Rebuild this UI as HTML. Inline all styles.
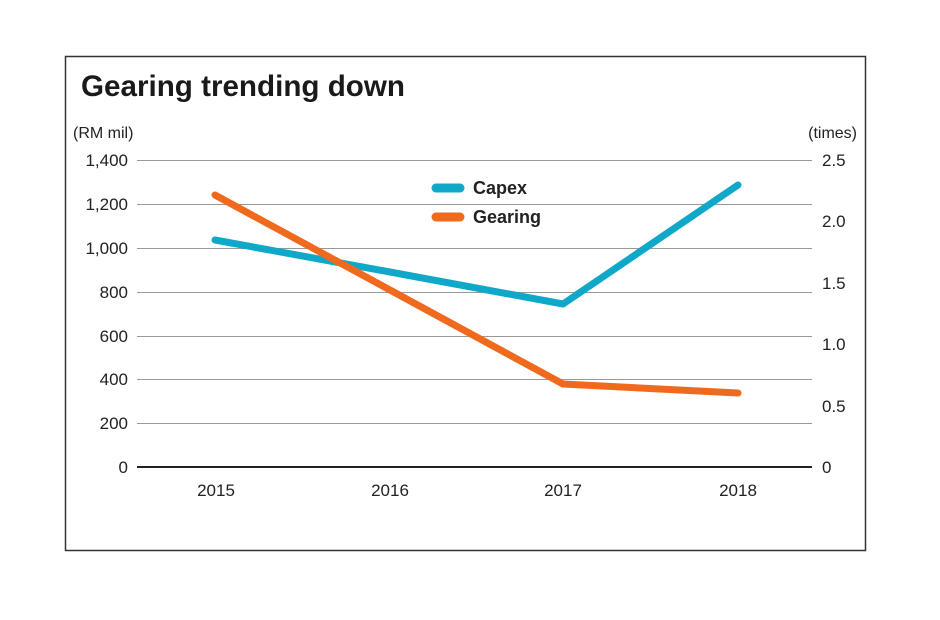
<!DOCTYPE html>
<html><head><meta charset="utf-8"><style>
html,body{margin:0;padding:0;background:#fff;}
</style></head><body>
<svg width="940" height="615" xmlns="http://www.w3.org/2000/svg" font-family="Liberation Sans, sans-serif">
<rect x="0" y="0" width="940" height="615" fill="#fff"/>
<rect x="65.5" y="56.5" width="800" height="494" fill="none" stroke="#333" stroke-width="1.5"/>
<text x="81" y="96" font-size="30" font-weight="bold" fill="#1a1a1a" textLength="324" lengthAdjust="spacingAndGlyphs">Gearing trending down</text>
<text x="73" y="138" font-size="16" fill="#222">(RM mil)</text>
<text x="857" y="138" font-size="16" fill="#222" text-anchor="end">(times)</text>
<g stroke="#999" stroke-width="1">
<line x1="137" y1="160.5" x2="812" y2="160.5"/>
<line x1="137" y1="204.5" x2="812" y2="204.5"/>
<line x1="137" y1="248.5" x2="812" y2="248.5"/>
<line x1="137" y1="292.5" x2="812" y2="292.5"/>
<line x1="137" y1="336.5" x2="812" y2="336.5"/>
<line x1="137" y1="379.5" x2="812" y2="379.5"/>
<line x1="137" y1="423.5" x2="812" y2="423.5"/>
</g>
<line x1="137" y1="467" x2="812" y2="467" stroke="#222" stroke-width="2"/>
<g font-size="17" fill="#222" text-anchor="end">
<text x="128" y="166">1,400</text>
<text x="128" y="210">1,200</text>
<text x="128" y="254">1,000</text>
<text x="128" y="298">800</text>
<text x="128" y="342">600</text>
<text x="128" y="385">400</text>
<text x="128" y="429">200</text>
<text x="128" y="473">0</text>
</g>
<g font-size="17" fill="#222">
<text x="822" y="166">2.5</text>
<text x="822" y="227">2.0</text>
<text x="822" y="289">1.5</text>
<text x="822" y="350">1.0</text>
<text x="822" y="412">0.5</text>
<text x="822" y="473">0</text>
</g>
<g font-size="17" fill="#222" text-anchor="middle">
<text x="216" y="496">2015</text>
<text x="390" y="496">2016</text>
<text x="563" y="496">2017</text>
<text x="738" y="496">2018</text>
</g>
<polyline points="215,240 390,272 563,304 738,185" fill="none" stroke="#10a8c8" stroke-width="7" stroke-linecap="round" stroke-linejoin="round"/>
<polyline points="215,195 390,290 563,384 738,393" fill="none" stroke="#f06a1e" stroke-width="7" stroke-linecap="round" stroke-linejoin="round"/>
<line x1="436" y1="188" x2="460" y2="188" stroke="#10a8c8" stroke-width="9" stroke-linecap="round"/>
<line x1="436" y1="217" x2="460" y2="217" stroke="#f06a1e" stroke-width="9" stroke-linecap="round"/>
<text x="473" y="194" font-size="18" font-weight="bold" fill="#222">Capex</text>
<text x="473" y="223" font-size="18" font-weight="bold" fill="#222">Gearing</text>
</svg>
</body></html>
